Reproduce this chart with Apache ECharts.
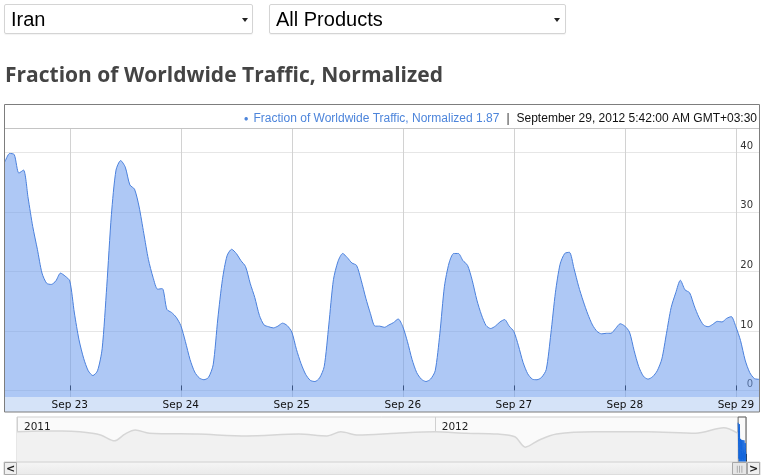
<!DOCTYPE html>
<html><head><meta charset="utf-8">
<script src="https://cdn.jsdelivr.net/npm/echarts@6/dist/echarts.min.js"></script>
<style>
html,body{margin:0;padding:0;background:#fff;}
#wrap{position:relative;width:767px;height:475px;overflow:hidden;}
#chart{position:absolute;left:0;top:0;width:767px;height:475px;}
.sel{position:absolute;top:4px;height:28px;border:1px solid #d4d4d4;border-radius:2px;background:#fff;font-family:"Liberation Sans",Arial,sans-serif;font-size:20px;line-height:28px;color:#000;box-shadow:0 1px 1px rgba(0,0,0,0.05);}
.sel span{position:absolute;left:6px;top:0;}
.sel i{position:absolute;top:13px;width:0;height:0;border-left:3px solid transparent;border-right:3px solid transparent;border-top:4px solid #222;}
#title{position:absolute;left:5px;top:60px;font-family:"Open Sans",sans-serif;font-weight:bold;font-size:21px;color:#444;white-space:nowrap;}
</style></head>
<body>
<div id="wrap">
  <div id="chart"></div>
  <div class="sel" style="left:4px;width:247px;"><span id="sel1"></span><i style="left:237px"></i></div>
  <div class="sel" style="left:269px;width:295px;"><span id="sel2"></span><i style="left:284px"></i></div>
  <div id="title"></div>
</div>
<script>
const countryLabel = 'Iran';
const productLabel = 'All Products';
const chartTitle = 'Fraction of Worldwide Traffic, Normalized';
const seriesName = 'Fraction of Worldwide Traffic, Normalized';
const lastTimeLabel = 'September 29, 2012 5:42:00 AM GMT+03:30';

// hourly samples starting Sep 22, 10:00 (local time)
const dayLabels = ['Sep 22','Sep 23','Sep 24','Sep 25','Sep 26','Sep 27','Sep 28','Sep 29'];
const firstHour = 10;
const trafficValues = [
  38.4, 39.8, 39.6, 36.5, 37.0, 32.3, 27.5, 23.7, 19.7, 18.0,
  17.8, 18.4, 19.7, 19.2, 18.4, 13.0, 8.5, 5.4, 3.3, 2.5,
  3.3, 7.0, 17.5, 29.5, 37.0, 38.6, 37.5, 34.5, 33.8, 30.8,
  26.4, 22.0, 19.0, 17.0, 17.1, 13.6, 13.1, 12.3, 10.9, 8.2,
  5.2, 3.1, 2.1, 1.8, 2.2, 4.3, 12.0, 18.6, 22.6, 23.7,
  23.0, 21.8, 20.8, 18.0, 15.6, 12.6, 11.0, 10.7, 10.5, 10.8,
  11.3, 10.9, 9.8, 6.9, 4.5, 2.7, 1.7, 1.5, 2.1, 4.0,
  11.0, 18.6, 21.7, 23.0, 22.3, 21.4, 21.0, 18.5, 15.5, 12.9,
  10.8, 10.8, 10.6, 11.0, 11.4, 12.0, 10.7, 8.2, 5.2, 3.0,
  1.9, 1.5, 1.9, 3.3, 9.5, 17.5, 21.4, 23.0, 23.0, 21.8,
  21.0, 18.5, 15.2, 12.7, 10.9, 10.4, 10.8, 11.5, 11.9, 10.8,
  9.9, 7.5, 4.7, 2.8, 1.9, 1.8, 2.2, 3.5, 9.5, 16.5,
  21.2, 23.0, 23.2, 20.5, 17.5, 15.0, 12.8, 11.0, 9.9, 9.5,
  9.6, 9.6, 10.4, 11.2, 10.8, 9.8, 6.7, 4.0, 2.4, 1.9,
  2.3, 3.3, 5.3, 9.6, 13.9, 16.4, 18.5, 16.9, 16.4, 14.2,
  12.3, 11.0, 10.7, 11.1, 11.6, 11.5, 12.1, 12.4, 10.7, 8.4,
  5.1, 3.0, 2.0, 1.87
];
const yTickValues = [0, 10, 20, 30, 40];

// overview (navigator) series: months since Jan 2011
const navYearLabels = ['2011', '2012'];
const navMonths = [0, 0.7, 1.3, 1.8, 2.4, 2.8, 3.1, 3.4, 3.8, 5.2, 6.6, 8.1, 8.9, 9.3, 9.8, 10.9, 12, 12.9, 13.8, 14.3, 14.6, 15.0, 15.5, 16.6, 18.1, 19.5, 20.3, 20.7];
const navValues = [6.7, 6.9, 6.9, 6.7, 6.0, 4.7, 6.2, 7.1, 6.4, 6.2, 5.8, 6.2, 5.8, 6.7, 6.0, 6.4, 6.7, 6.4, 6.2, 5.6, 3.3, 4.9, 6.2, 6.7, 6.7, 6.4, 7.6, 6.4];

document.getElementById('sel1').textContent = countryLabel;
document.getElementById('sel2').textContent = productLabel;
document.getElementById('title').textContent = chartTitle;

const categories = trafficValues.map((v, i) => {
  const abs = firstHour + i;
  const d = Math.floor(abs / 24), hr = abs % 24;
  return dayLabels[d] + ' ' + (hr < 10 ? '0' : '') + hr + ':00';
});
const isMidnight = (i, v) => / 00:00$/.test(v);

const navFirstMonth = 20 + (21 + firstHour / 24) / 30;
const navLastMonth = navFirstMonth + (trafficValues.length - 1) / (24 * 30);
const navDetail = trafficValues.map((v, i) => [navFirstMonth + i / (24 * 30), v]);
const navOverview = navMonths.map((m, i) => [m, navValues[i]]);
const lastValue = trafficValues[trafficValues.length - 1];

const lblFont = 'DejaVu Sans';
const legFont = 'Liberation Sans';
const chart = echarts.init(document.getElementById('chart'), null, {renderer: 'canvas'});
chart.setOption({
  animation: false,
  backgroundColor: 'transparent',
  title: {
    right: 10, top: 110, padding: 0,
    text: '{dot|●} {name|' + seriesName + ' ' + lastValue + '} {sep||} {date|' + lastTimeLabel + '}',
    textStyle: {
      fontWeight: 'normal',
      rich: {
        dot: {color: '#4d85db', fontSize: 8, fontWeight: 'normal', verticalAlign: 'middle'},
        name: {color: '#4d85db', fontSize: 12, fontWeight: 'normal', fontFamily: legFont},
        sep: {color: '#333', fontSize: 12, fontWeight: 'normal', fontFamily: legFont, padding: [0, 2]},
        date: {color: '#111', fontSize: 12, fontWeight: 'normal', fontFamily: legFont}
      }
    }
  },
  grid: [
    {left: 5, right: 8, top: 129, bottom: 78},
    {left: 5, right: 8, top: 152.3, bottom: 84.4},
    {left: 17, width: 729, top: 417, height: 45, show: true, backgroundColor: '#fafafa', borderColor: '#cfcfcf', borderWidth: 1}
  ],
  xAxis: [
    {
      type: 'category', gridIndex: 0, data: categories, boundaryGap: false,
      axisLine: {show: false},
      axisTick: {show: true, inside: true, length: 5, interval: isMidnight, lineStyle: {color: '#000'}},
      axisLabel: {interval: isMidnight, margin: 3, fontFamily: lblFont, fontSize: 10.5, color: '#111',
        formatter: v => v.split(' ').slice(0, 2).join(' ')},
      splitLine: {show: true, interval: isMidnight, lineStyle: {color: '#d2d2d2', width: 1}}
    },
    {type: 'value', gridIndex: 1, min: 0, max: 1, show: false},
    {
      type: 'value', gridIndex: 2, min: 0, max: navLastMonth, interval: 3, position: 'bottom',
      axisLine: {show: false}, axisLabel: {show: false}, splitLine: {show: false},
      axisTick: {show: true, inside: true, length: 5, lineStyle: {color: '#c4c4c4'}}
    },
    {
      type: 'value', gridIndex: 2, min: 0, max: navLastMonth, interval: 12, position: 'top',
      axisLine: {show: false}, axisTick: {show: false},
      axisLabel: {inside: true, margin: 5, align: 'left', padding: [0, 0, 0, 7], showMaxLabel: false,
        fontFamily: lblFont, fontSize: 10.5, color: '#222',
        formatter: v => (v % 12 === 0 && navYearLabels[v / 12]) ? navYearLabels[v / 12] : ''},
      splitLine: {show: true, lineStyle: {color: '#d0d0d0'}}
    },
    {
      type: 'value', gridIndex: 2, min: 0, max: navLastMonth, interval: 12, position: 'bottom',
      axisLine: {show: false}, axisLabel: {show: false}, splitLine: {show: false},
      axisTick: {show: true, inside: true, length: 8, lineStyle: {color: '#000'}}
    }
  ],
  yAxis: [
    {type: 'value', gridIndex: 0, min: -1.1, max: 43.9, show: false},
    {
      type: 'value', gridIndex: 1, min: 0, max: 40, interval: 10, position: 'right',
      axisLine: {show: false}, axisTick: {show: false},
      axisLabel: {inside: true, margin: 6, verticalAlign: 'bottom', padding: [0, 0, 1, 0],
        fontFamily: lblFont, fontSize: 10, color: '#333',
        formatter: v => yTickValues.indexOf(v) >= 0 ? String(v) : ''},
      splitLine: {show: true, lineStyle: {color: '#e6e6e6'}}
    },
    {type: 'value', gridIndex: 2, min: 0, max: 10, show: false},
    {type: 'value', gridIndex: 2, min: 0, max: 44, show: false}
  ],
  series: [
    {
      name: seriesName, type: 'line', xAxisIndex: 0, yAxisIndex: 0, data: trafficValues,
      symbol: 'none', smooth: 0.25, z: 3,
      lineStyle: {color: '#4a80dc', width: 1},
      areaStyle: {color: '#6c9bed', opacity: 0.55, origin: 'start'}
    },
    {
      type: 'line', xAxisIndex: 2, yAxisIndex: 2, data: navOverview, symbol: 'none', smooth: 0.3,
      lineStyle: {color: '#d6d6d6', width: 1.5},
      areaStyle: {color: '#f1f1f1', opacity: 1, origin: 'start'}
    },
    {
      type: 'line', xAxisIndex: 2, yAxisIndex: 3, data: navDetail, symbol: 'none',
      lineStyle: {color: '#1466dc', width: 1},
      areaStyle: {color: '#1a6fe2', opacity: 1, origin: 'start'},
      markArea: {silent: true,
        itemStyle: {color: 'rgba(0,0,0,0)', borderColor: '#666', borderWidth: 1},
        data: [[{xAxis: navFirstMonth}, {xAxis: navLastMonth}]]}
    }
  ],
  graphic: [
    {type: 'rect', z: -1, silent: true, shape: {x: 5, y: 397, width: 754, height: 15}, style: {fill: '#d5e3f8'}},
    {type: 'line', z: 50, silent: true, shape: {x1: 5, y1: 128.5, x2: 759, y2: 128.5}, style: {stroke: '#c4c4c4', lineWidth: 1}},
    {type: 'rect', z: 100, silent: true, shape: {x: 4.5, y: 104.5, width: 755, height: 307.5}, style: {fill: null, stroke: '#7d7d7d', lineWidth: 1}},
    // scrollbar
    {type: 'rect', z: 50, silent: true, shape: {x: 4, y: 462, width: 756, height: 13},
      style: {fill: new echarts.graphic.LinearGradient(0, 0, 0, 1, [{offset: 0, color: '#f6f6f6'}, {offset: 1, color: '#e9e9e9'}]), stroke: '#d0d0d0', lineWidth: 1}},
    {type: 'rect', z: 51, silent: true, shape: {x: 4.5, y: 462.5, width: 12, height: 12}, style: {fill: '#f0f0f0', stroke: '#a8a8a8', lineWidth: 1}},
    {type: 'text', z: 52, silent: true, style: {x: 10.5, y: 469, text: '<', fill: '#222', font: 'bold 11px "DejaVu Sans"', align: 'center', verticalAlign: 'middle'}},
    {type: 'rect', z: 51, silent: true, shape: {x: 747.5, y: 462.5, width: 12, height: 12}, style: {fill: '#f0f0f0', stroke: '#a8a8a8', lineWidth: 1}},
    {type: 'text', z: 52, silent: true, style: {x: 753.5, y: 469, text: '>', fill: '#222', font: 'bold 11px "DejaVu Sans"', align: 'center', verticalAlign: 'middle'}},
    {type: 'rect', z: 51, silent: true, shape: {x: 732.5, y: 462.5, width: 14, height: 12}, style: {fill: '#e6e6e6', stroke: '#a8a8a8', lineWidth: 1}},
    {type: 'text', z: 52, silent: true, style: {x: 739.5, y: 469, text: '|||', fill: '#888', font: '7px "DejaVu Sans"', align: 'center', verticalAlign: 'middle'}}
  ]
});
</script>
</body></html>
